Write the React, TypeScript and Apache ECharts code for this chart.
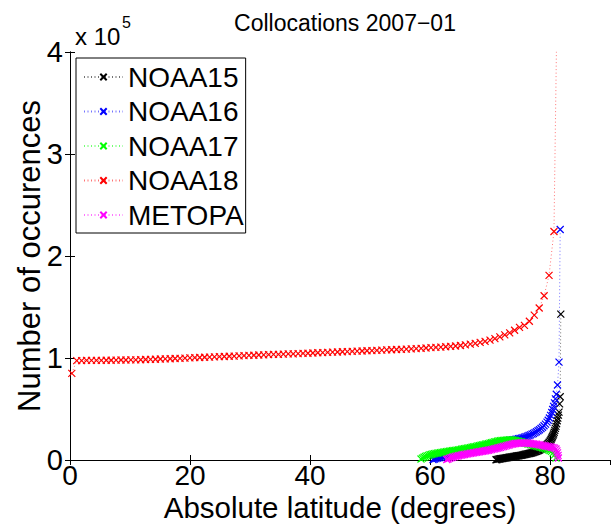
import React, { useEffect, useRef } from "react";
import * as echarts from "echarts";

const TITLE = "Collocations 2007\u221201";
const X_NAME = "Absolute latitude (degrees)";
const Y_NAME = "Number of occurences";
const SERIES_NAMES = ["NOAA15", "NOAA16", "NOAA17", "NOAA18", "METOPA"];
const COLORS = ["#000000", "#0000ff", "#00ff00", "#ff0000", "#ff00ff"];

// [latitude (deg), occurrences in units of 10^5]
const NOAA18_LAT = [
  0.3, 1.12, 1.94, 2.76, 3.58, 4.4, 5.22, 6.04, 6.86, 7.68, 8.5, 9.32, 10.14, 10.96, 11.78, 12.6, 13.42, 14.24, 15.06, 15.88,
  16.7, 17.52, 18.34, 19.16, 19.98, 20.8, 21.62, 22.44, 23.26, 24.08, 24.9, 25.72, 26.54, 27.36, 28.18, 29.0, 29.82, 30.64, 31.46, 32.28,
  33.1, 33.92, 34.74, 35.56, 36.38, 37.2, 38.02, 38.84, 39.66, 40.48, 41.3, 42.12, 42.94, 43.76, 44.58, 45.4, 46.22, 47.04, 47.86, 48.68,
  49.5, 50.32, 51.14, 51.96, 52.78, 53.6, 54.42, 55.24, 56.06, 56.88, 57.7, 58.52, 59.34, 60.16, 60.98, 61.8, 62.62, 63.44, 64.26, 65.08,
  65.9, 66.72, 67.54, 68.36, 69.18, 70.0, 70.82, 71.64, 72.46, 73.28, 74.1, 74.92, 75.74, 76.56, 77.38, 78.2, 79.02, 79.84, 80.66, 81.48,
];
const NOAA18_VAL = [
  0.85, 0.975, 0.975, 0.976, 0.976, 0.977, 0.977, 0.978, 0.978, 0.979, 0.98, 0.98, 0.981, 0.982, 0.983, 0.985, 0.986, 0.988, 0.99, 0.991,
  0.993, 0.995, 0.997, 0.999, 1.001, 1.003, 1.005, 1.007, 1.009, 1.011, 1.013, 1.015, 1.017, 1.019, 1.021, 1.023, 1.025, 1.027, 1.029, 1.031,
  1.033, 1.035, 1.036, 1.038, 1.04, 1.041, 1.043, 1.045, 1.047, 1.049, 1.051, 1.053, 1.055, 1.057, 1.059, 1.061, 1.063, 1.065, 1.067, 1.069,
  1.071, 1.073, 1.075, 1.077, 1.079, 1.081, 1.083, 1.085, 1.087, 1.089, 1.092, 1.095, 1.098, 1.101, 1.104, 1.107, 1.11, 1.114, 1.118, 1.123,
  1.129, 1.136, 1.144, 1.153, 1.163, 1.175, 1.19, 1.207, 1.226, 1.247, 1.272, 1.3, 1.32, 1.36, 1.42, 1.49, 1.61, 1.81, 2.24, 5.8,
];

const NOAA17 = [
  [58.5, 0.01], [58.75, 0.019], [59.0, 0.027], [59.25, 0.034], [59.5, 0.04], [59.75, 0.046], [60.0, 0.051], [60.25, 0.055],
  [60.5, 0.059], [60.75, 0.062], [61.0, 0.065], [61.25, 0.068], [61.5, 0.07], [61.75, 0.073], [62.0, 0.075], [62.25, 0.077],
  [62.5, 0.08], [62.75, 0.082], [63.0, 0.084], [63.25, 0.086], [63.5, 0.088], [63.75, 0.091], [64.0, 0.093], [64.25, 0.095],
  [64.5, 0.097], [64.75, 0.1], [65.0, 0.102], [65.25, 0.105], [65.5, 0.108], [65.75, 0.11], [66.0, 0.113], [66.25, 0.116],
  [66.5, 0.119], [66.75, 0.122], [67.0, 0.125], [67.25, 0.128], [67.5, 0.131], [67.75, 0.134], [68.0, 0.138], [68.25, 0.141],
  [68.5, 0.145], [68.75, 0.148], [69.0, 0.151], [69.25, 0.155], [69.5, 0.158], [69.75, 0.161], [70.0, 0.165], [70.25, 0.169],
  [70.5, 0.173], [70.75, 0.177], [71.0, 0.18], [71.25, 0.184], [71.5, 0.187], [71.75, 0.189], [72.0, 0.191], [72.25, 0.193],
  [72.5, 0.194], [72.75, 0.195], [73.0, 0.196], [73.25, 0.197], [73.5, 0.197], [73.75, 0.196], [74.0, 0.194], [74.25, 0.191],
  [74.5, 0.188], [74.75, 0.184], [75.0, 0.18], [75.25, 0.176], [75.5, 0.172], [75.75, 0.167], [76.0, 0.163], [76.25, 0.159],
  [76.5, 0.155], [76.75, 0.151], [77.0, 0.147], [77.25, 0.143], [77.5, 0.14], [77.75, 0.136], [78.0, 0.132], [78.25, 0.128],
  [78.5, 0.124], [78.75, 0.12], [79.0, 0.116], [79.25, 0.111], [79.5, 0.106], [79.75, 0.1], [80.0, 0.093], [80.25, 0.084],
  [80.5, 0.07], [80.75, 0.05], [81.0, 0.02],
];

const NOAA16 = [
  [60.5, 0.005], [60.75, 0.01], [61.0, 0.014], [61.25, 0.018], [61.5, 0.022], [61.75, 0.026], [62.0, 0.03], [62.25, 0.034],
  [62.5, 0.038], [62.75, 0.042], [63.0, 0.046], [63.25, 0.05], [63.5, 0.054], [63.75, 0.058], [64.0, 0.061], [64.25, 0.065],
  [64.5, 0.069], [64.75, 0.073], [65.0, 0.076], [65.25, 0.08], [65.5, 0.084], [65.75, 0.088], [66.0, 0.091], [66.25, 0.095],
  [66.5, 0.099], [66.75, 0.103], [67.0, 0.106], [67.25, 0.11], [67.5, 0.114], [67.75, 0.118], [68.0, 0.121], [68.25, 0.125],
  [68.5, 0.129], [68.75, 0.132], [69.0, 0.136], [69.25, 0.14], [69.5, 0.143], [69.75, 0.147], [70.0, 0.151], [70.25, 0.155],
  [70.5, 0.158], [70.75, 0.161], [71.0, 0.165], [71.25, 0.168], [71.5, 0.171], [71.75, 0.174], [72.0, 0.177], [72.25, 0.18],
  [72.5, 0.183], [72.75, 0.186], [73.0, 0.189], [73.25, 0.191], [73.5, 0.194], [73.75, 0.197], [74.0, 0.199], [74.25, 0.202],
  [74.5, 0.205], [74.75, 0.208], [75.0, 0.211], [75.25, 0.215], [75.5, 0.219], [75.75, 0.224], [76.0, 0.229], [76.25, 0.234],
  [76.5, 0.24], [76.75, 0.246], [77.0, 0.253], [77.25, 0.26], [77.5, 0.268], [77.75, 0.277], [78.0, 0.287], [78.25, 0.297],
  [78.5, 0.309], [78.75, 0.321], [79.0, 0.336], [79.25, 0.352], [79.5, 0.371], [79.7, 0.39], [79.9, 0.412], [80.1, 0.437],
  [80.3, 0.466], [80.45, 0.495], [80.6, 0.525], [80.75, 0.56], [80.9, 0.6], [81.05, 0.645], [81.25, 0.735], [81.5, 0.96],
  [81.7, 2.26],
];

const METOPA = [
  [62.8, 0.005], [63.0, 0.01], [63.25, 0.016], [63.5, 0.022], [63.75, 0.027], [64.0, 0.031], [64.25, 0.035], [64.5, 0.038],
  [64.75, 0.042], [65.0, 0.045], [65.25, 0.048], [65.5, 0.051], [65.75, 0.054], [66.0, 0.057], [66.25, 0.06], [66.5, 0.063],
  [66.75, 0.066], [67.0, 0.068], [67.25, 0.071], [67.5, 0.073], [67.75, 0.076], [68.0, 0.078], [68.25, 0.081], [68.5, 0.083],
  [68.75, 0.086], [69.0, 0.088], [69.25, 0.091], [69.5, 0.093], [69.75, 0.096], [70.0, 0.099], [70.25, 0.102], [70.5, 0.106],
  [70.75, 0.109], [71.0, 0.113], [71.25, 0.116], [71.5, 0.12], [71.75, 0.124], [72.0, 0.128], [72.25, 0.132], [72.5, 0.136],
  [72.75, 0.141], [73.0, 0.145], [73.25, 0.149], [73.5, 0.153], [73.75, 0.156], [74.0, 0.159], [74.25, 0.162], [74.5, 0.164],
  [74.75, 0.166], [75.0, 0.167], [75.25, 0.168], [75.5, 0.168], [75.75, 0.168], [76.0, 0.167], [76.25, 0.166], [76.5, 0.164],
  [76.75, 0.162], [77.0, 0.16], [77.25, 0.158], [77.5, 0.156], [77.75, 0.154], [78.0, 0.151], [78.25, 0.149], [78.5, 0.146],
  [78.75, 0.143], [79.0, 0.14], [79.25, 0.137], [79.5, 0.134], [79.75, 0.131], [80.0, 0.128], [80.25, 0.125], [80.5, 0.121],
  [80.75, 0.117], [81.0, 0.108], [81.15, 0.09], [81.25, 0.07], [81.35, 0.045], [81.4, 0.02],
];

const NOAA15 = [
  [71.0, 0.002], [71.15, 0.004], [71.3, 0.006], [71.45, 0.008], [71.6, 0.01], [71.75, 0.012], [71.9, 0.013], [72.05, 0.015],
  [72.2, 0.016], [72.35, 0.018], [72.5, 0.019], [72.65, 0.021], [72.8, 0.022], [72.95, 0.024], [73.1, 0.025], [73.25, 0.027],
  [73.4, 0.028], [73.55, 0.03], [73.7, 0.031], [73.85, 0.033], [74.0, 0.034], [74.15, 0.036], [74.3, 0.037], [74.45, 0.039],
  [74.6, 0.04], [74.75, 0.042], [74.9, 0.043], [75.05, 0.045], [75.2, 0.046], [75.35, 0.048], [75.5, 0.05], [75.65, 0.052],
  [75.8, 0.054], [75.95, 0.056], [76.1, 0.058], [76.25, 0.06], [76.4, 0.062], [76.55, 0.064], [76.7, 0.066], [76.85, 0.068],
  [77.0, 0.071], [77.15, 0.073], [77.3, 0.076], [77.45, 0.079], [77.6, 0.082], [77.75, 0.085], [77.9, 0.089], [78.05, 0.093],
  [78.2, 0.097], [78.35, 0.101], [78.5, 0.106], [78.65, 0.111], [78.8, 0.117], [78.95, 0.123], [79.1, 0.13], [79.25, 0.137],
  [79.4, 0.145], [79.55, 0.154], [79.7, 0.163], [79.85, 0.174], [80.0, 0.185], [80.1, 0.195], [80.2, 0.205], [80.3, 0.216],
  [80.4, 0.228], [80.5, 0.241], [80.6, 0.255], [80.7, 0.272], [80.8, 0.29], [80.9, 0.31], [81.0, 0.33], [81.1, 0.355],
  [81.2, 0.385], [81.3, 0.41], [81.4, 0.44], [81.5, 0.47], [81.6, 0.55], [81.7, 0.62], [81.8, 1.43],
];

const X_TICKS = { min: 0, max: 90, interval: 20 };
const Y_TICKS = { min: 0, max: 4, interval: 1 };
const FONT = "'Liberation Sans', Arial, Helvetica, sans-serif";

const SERIES_DATA = [NOAA15, NOAA16, NOAA17, NOAA18_LAT.map((x, i) => [x, NOAA18_VAL[i]]), METOPA];

const X_MARK = "path://M0,0L10,10M10,0L0,10";

export default function App() {
  const ref = useRef<HTMLDivElement>(null);
  useEffect(() => {
    if (!ref.current) return;
    const chart = echarts.init(ref.current, undefined, { renderer: "svg" });
    const axisLine = { show: true, lineStyle: { color: "#000", width: 1 } };
    const tick = { show: true, inside: true, length: 5, lineStyle: { color: "#000" } };
    chart.setOption({
      animation: false,
      backgroundColor: "#fff",
      textStyle: { fontFamily: FONT },
      title: {
        text: TITLE,
        left: 340,
        textAlign: "center",
        top: 6,
        textStyle: { fontFamily: FONT, fontSize: 23, fontWeight: "normal", color: "#000" },
      },
      grid: { left: 70, right: 1, top: 52, bottom: 64, outerBoundsMode: "none", containLabel: false },
      legend: {
        orient: "vertical",
        left: 76,
        top: 58,
        backgroundColor: "#fff",
        borderColor: "#000",
        borderWidth: 1,
        padding: [5, 2, 4, 7],
        itemWidth: 39,
        itemHeight: 8,
        itemGap: 6.5,
        textStyle: { fontFamily: FONT, fontSize: 28, lineHeight: 28, color: "#000" },
        data: SERIES_NAMES,
      },
      xAxis: [
        {
          type: "value",
          ...X_TICKS,
          name: X_NAME,
          nameLocation: "middle",
          nameGap: 32.5,
          nameMoveOverlap: false,
          nameTextStyle: { fontFamily: FONT, fontSize: 29.5, color: "#000" },
          axisLine,
          axisTick: tick,
          splitLine: { show: false },
          axisLabel: { fontFamily: FONT, fontSize: 28, color: "#000", margin: 1, showMaxLabel: false },
        },
        {
          type: "value",
          position: "top",
          ...X_TICKS,
          axisLine,
          axisTick: tick,
          splitLine: { show: false },
          axisLabel: { show: false },
        },
      ],
      yAxis: [
        {
          type: "value",
          ...Y_TICKS,
          name: Y_NAME,
          nameLocation: "middle",
          nameGap: 25,
          nameMoveOverlap: false,
          nameTextStyle: { fontFamily: FONT, fontSize: 31, color: "#000" },
          axisLine,
          axisTick: tick,
          splitLine: { show: false },
          axisLabel: { fontFamily: FONT, fontSize: 29, color: "#000", margin: 7 },
        },
        {
          type: "value",
          position: "right",
          ...Y_TICKS,
          axisLine,
          axisTick: tick,
          splitLine: { show: false },
          axisLabel: { show: false },
        },
      ],
      graphic: [
        { type: "text", left: 75, top: 24, style: { text: "x 10", font: `24px ${FONT}`, fill: "#000" } },
        { type: "text", left: 122, top: 14, style: { text: "5", font: `16px ${FONT}`, fill: "#000" } },
      ],
      series: SERIES_NAMES.map((name, i) => ({
        name,
        type: "line",
        xAxisIndex: 0,
        yAxisIndex: 0,
        data: SERIES_DATA[i],
        symbol: X_MARK,
        symbolSize: 7,
        showSymbol: true,
        showAllSymbol: true,
        clip: true,
        lineStyle: { color: COLORS[i], width: 1, type: [1, 2.5], opacity: 0.55 },
        itemStyle: { color: "rgba(0,0,0,0)", borderColor: COLORS[i], borderWidth: 1.2 },
        emphasis: { disabled: true },
      })),
    });
    return () => chart.dispose();
  }, []);
  return <div ref={ref} style={{ position: "fixed", left: 0, top: 0, width: 611, height: 524 }} />;
}
